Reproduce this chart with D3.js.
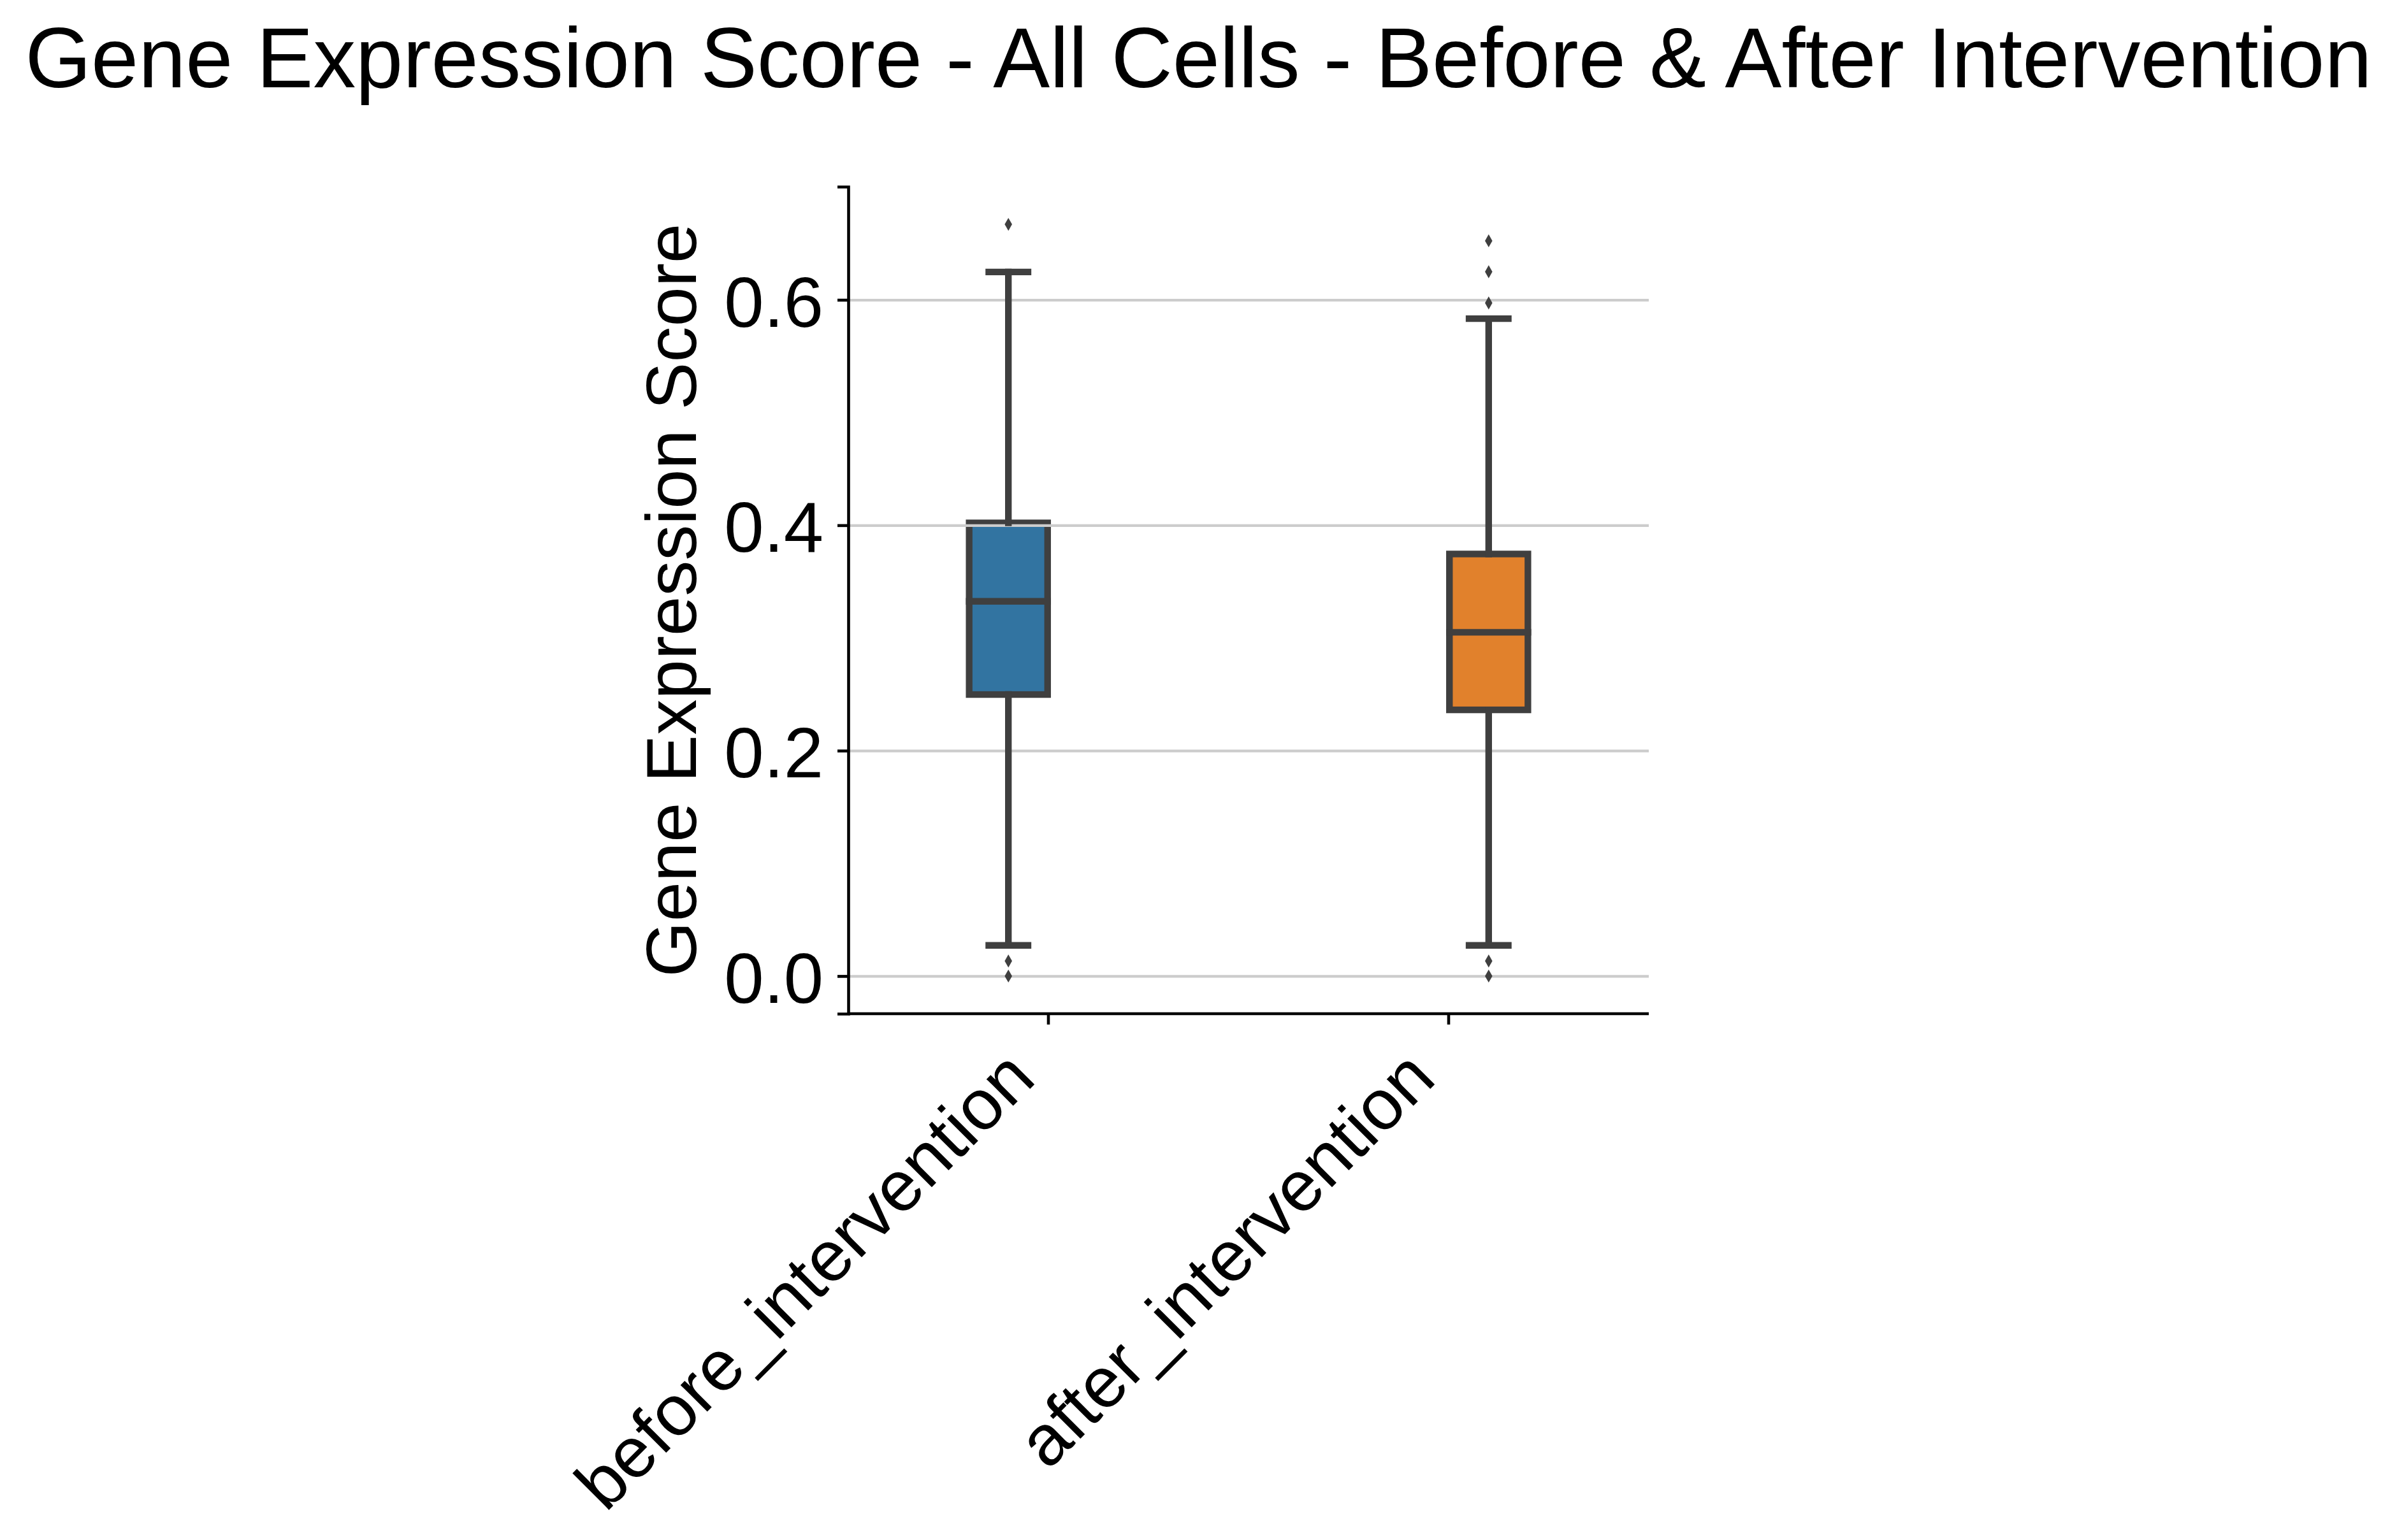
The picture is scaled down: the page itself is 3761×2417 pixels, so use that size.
<!DOCTYPE html>
<html>
<head>
<meta charset="utf-8">
<script src="https://cdn.jsdelivr.net/npm/d3@7"></script>
<style>
  html, body { margin: 0; padding: 0; background: #ffffff; }
  text { font-family: "Liberation Sans", Arial, Helvetica, sans-serif; fill: #000; }
</style>
</head>
<body>
<script>
// ---- Data ----
const categories   = ["before_intervention", "after_intervention"];
const q1Values     = [0.2498, 0.2362];
const medianValues = [0.3325, 0.3050];
const q3Values     = [0.4021, 0.3745];
const whiskerLow   = [0.0272, 0.0272];
const whiskerHigh  = [0.6247, 0.5833];
const outliers     = [[0.0, 0.0134, 0.667], [0.0, 0.0134, 0.5972, 0.6249, 0.6524]];
const boxColors    = ["#3274a1", "#e1812c"];
const yTickValues  = [0.0, 0.2, 0.4, 0.6];
const titleText    = "Gene Expression Score - All Cells - Before & After Intervention";
const yLabelText   = "Gene Expression Score";

// ---- Layout ----
const W = 3761, H = 2417;
const axLeft = 1331, axRight = 2587, axTop = 293, axBottom = 1591;
const edgeColor = "#3f3f3f";
const lineW = 10.4;
const labelSize = 112;

const svg = d3.select("body").append("svg")
  .attr("width", W).attr("height", H)
  .attr("viewBox", `0 0 ${W} ${H}`);
svg.append("rect").attr("width", W).attr("height", H).attr("fill", "#fff");

const x = d3.scaleBand().domain(categories).range([axLeft, axRight]).paddingInner(0).paddingOuter(0);
const bw = x.bandwidth();
const hue = d3.scaleBand().domain(categories).range([-0.2 * bw, 0.2 * bw]);
const boxW = 0.98 * hue.bandwidth();
const y = d3.scaleLinear().domain([-0.0334, 0.7004]).range([axBottom, axTop]);

const boxes = categories.map((c, i) => ({
  cat: c, i,
  cx: x(c) + bw / 2 + hue(c) + hue.bandwidth() / 2,
  q1: q1Values[i], med: medianValues[i], q3: q3Values[i],
  lo: whiskerLow[i], hi: whiskerHigh[i], fl: outliers[i], color: boxColors[i]
}));

// Box patches (below grid)
svg.append("g").selectAll("rect").data(boxes).join("rect")
  .attr("x", d => d.cx - boxW / 2)
  .attr("y", d => y(d.q3))
  .attr("width", boxW)
  .attr("height", d => y(d.q1) - y(d.q3))
  .attr("fill", d => d.color)
  .attr("stroke", edgeColor)
  .attr("stroke-width", lineW);

// Grid
const grid = svg.append("g").attr("transform", `translate(${axLeft},0)`)
  .call(d3.axisLeft(y).tickValues(yTickValues).tickSize(-(axRight - axLeft)).tickFormat(""));
grid.select(".domain").remove();
grid.selectAll("line").attr("stroke", "#cccccc").attr("stroke-width", 4.2);

// Whiskers, caps, medians, fliers
const lines = svg.append("g").attr("stroke", edgeColor).attr("stroke-width", lineW).attr("stroke-linecap", "square");
boxes.forEach(d => {
  lines.append("line").attr("x1", d.cx).attr("x2", d.cx).attr("y1", y(d.q1)).attr("y2", y(d.lo));
  lines.append("line").attr("x1", d.cx).attr("x2", d.cx).attr("y1", y(d.q3)).attr("y2", y(d.hi));
  lines.append("line").attr("x1", d.cx - boxW / 4).attr("x2", d.cx + boxW / 4).attr("y1", y(d.lo)).attr("y2", y(d.lo));
  lines.append("line").attr("x1", d.cx - boxW / 4).attr("x2", d.cx + boxW / 4).attr("y1", y(d.hi)).attr("y2", y(d.hi));
  lines.append("line").attr("x1", d.cx - boxW / 2).attr("x2", d.cx + boxW / 2).attr("y1", y(d.med)).attr("y2", y(d.med));
});
const dw = 5.8, dh = 10.2;
const diamond = `M0,${-dh}L${dw},0L0,${dh}L${-dw},0Z`;
const fl = svg.append("g");
boxes.forEach(d => {
  fl.selectAll(null).data(d.fl).join("path")
    .attr("d", diamond)
    .attr("transform", v => `translate(${d.cx},${y(v)})`)
    .attr("fill", edgeColor);
});

// Y axis
const yAxis = svg.append("g").attr("transform", `translate(${axLeft},0)`)
  .call(d3.axisLeft(y).tickValues(yTickValues).tickFormat(d3.format(".1f")).tickSizeOuter(0).tickSize(17).tickPadding(22));
yAxis.select(".domain").attr("stroke", "#000").attr("stroke-width", 4.6);
yAxis.selectAll(".tick line").attr("stroke", "#000").attr("stroke-width", 4.6);
yAxis.selectAll(".tick text")
  .attr("font-size", labelSize).attr("font-family", "Liberation Sans, Arial, sans-serif")
  .attr("dy", "0.37em").attr("fill", "#000");

// X axis
const xAxis = svg.append("g").attr("transform", `translate(0,${axBottom})`)
  .call(d3.axisBottom(x).tickSizeOuter(0).tickSize(17).tickFormat(""));
xAxis.select(".domain").attr("stroke", "#000").attr("stroke-width", 4.6)
  .attr("d", `M${axLeft},0H${axRight}`);
xAxis.selectAll(".tick line").attr("stroke", "#000").attr("stroke-width", 4.6);

// Rotated x tick labels
svg.append("g").selectAll("text").data(categories).join("text")
  .attr("font-size", labelSize)
  .attr("text-anchor", "end")
  .attr("transform", c => `translate(${x(c) + bw / 2 - 16.8},${axBottom + 106}) rotate(-45)`)
  .text(c => c);

// Y label
svg.append("text")
  .attr("font-size", labelSize)
  .attr("text-anchor", "middle")
  .attr("transform", `translate(1092,${(axTop + axBottom) / 2}) rotate(-90)`)
  .text(yLabelText);

// Title
svg.append("text")
  .attr("font-size", 133.3)
  .attr("text-anchor", "middle")
  .attr("x", W / 2).attr("y", 137)
  .text(titleText);
</script>
</body>
</html>
